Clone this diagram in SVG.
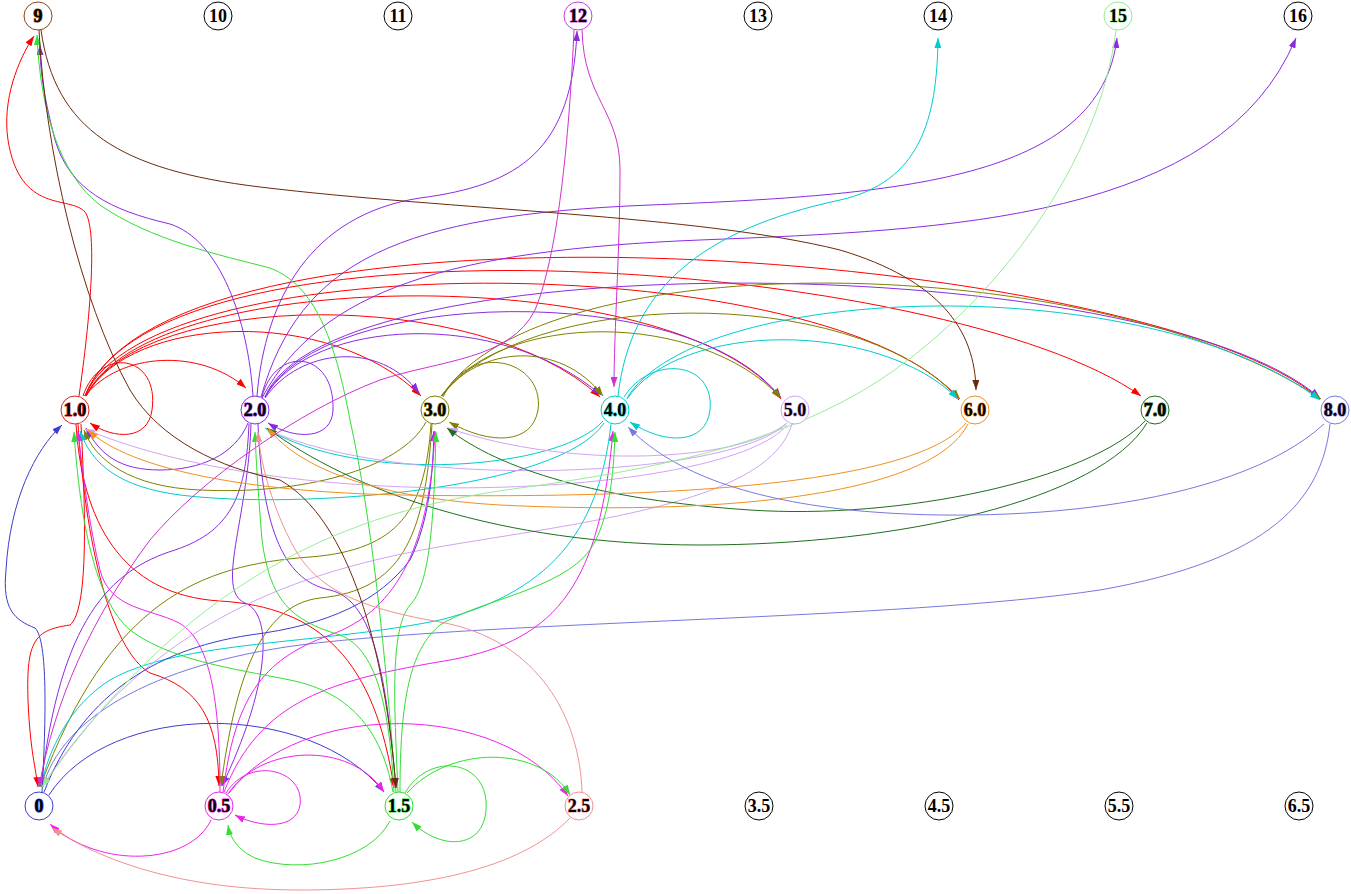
<svg xmlns="http://www.w3.org/2000/svg" width="1351" height="894" viewBox="0 0 1351 894">
<defs>
<marker id="a-red" viewBox="0 0 10 7" refX="10" refY="3.5" markerWidth="10" markerHeight="7" markerUnits="userSpaceOnUse" orient="auto"><path d="M0,0L10,3.5L0,7z" fill="#ff0000"/></marker>
<marker id="a-pur" viewBox="0 0 10 7" refX="10" refY="3.5" markerWidth="10" markerHeight="7" markerUnits="userSpaceOnUse" orient="auto"><path d="M0,0L10,3.5L0,7z" fill="#8a2be2"/></marker>
<marker id="a-olv" viewBox="0 0 10 7" refX="10" refY="3.5" markerWidth="10" markerHeight="7" markerUnits="userSpaceOnUse" orient="auto"><path d="M0,0L10,3.5L0,7z" fill="#808000"/></marker>
<marker id="a-cyn" viewBox="0 0 10 7" refX="10" refY="3.5" markerWidth="10" markerHeight="7" markerUnits="userSpaceOnUse" orient="auto"><path d="M0,0L10,3.5L0,7z" fill="#00cccc"/></marker>
<marker id="a-lil" viewBox="0 0 10 7" refX="10" refY="3.5" markerWidth="10" markerHeight="7" markerUnits="userSpaceOnUse" orient="auto"><path d="M0,0L10,3.5L0,7z" fill="#cfa4f2"/></marker>
<marker id="a-org" viewBox="0 0 10 7" refX="10" refY="3.5" markerWidth="10" markerHeight="7" markerUnits="userSpaceOnUse" orient="auto"><path d="M0,0L10,3.5L0,7z" fill="#f0901e"/></marker>
<marker id="a-dgr" viewBox="0 0 10 7" refX="10" refY="3.5" markerWidth="10" markerHeight="7" markerUnits="userSpaceOnUse" orient="auto"><path d="M0,0L10,3.5L0,7z" fill="#1e6e1e"/></marker>
<marker id="a-slt" viewBox="0 0 10 7" refX="10" refY="3.5" markerWidth="10" markerHeight="7" markerUnits="userSpaceOnUse" orient="auto"><path d="M0,0L10,3.5L0,7z" fill="#7878e0"/></marker>
<marker id="a-blu" viewBox="0 0 10 7" refX="10" refY="3.5" markerWidth="10" markerHeight="7" markerUnits="userSpaceOnUse" orient="auto"><path d="M0,0L10,3.5L0,7z" fill="#3c3cd0"/></marker>
<marker id="a-mag" viewBox="0 0 10 7" refX="10" refY="3.5" markerWidth="10" markerHeight="7" markerUnits="userSpaceOnUse" orient="auto"><path d="M0,0L10,3.5L0,7z" fill="#ee22ee"/></marker>
<marker id="a-m12" viewBox="0 0 10 7" refX="10" refY="3.5" markerWidth="10" markerHeight="7" markerUnits="userSpaceOnUse" orient="auto"><path d="M0,0L10,3.5L0,7z" fill="#d030d0"/></marker>
<marker id="a-grn" viewBox="0 0 10 7" refX="10" refY="3.5" markerWidth="10" markerHeight="7" markerUnits="userSpaceOnUse" orient="auto"><path d="M0,0L10,3.5L0,7z" fill="#33dd33"/></marker>
<marker id="a-sal" viewBox="0 0 10 7" refX="10" refY="3.5" markerWidth="10" markerHeight="7" markerUnits="userSpaceOnUse" orient="auto"><path d="M0,0L10,3.5L0,7z" fill="#f39090"/></marker>
<marker id="a-brn" viewBox="0 0 10 7" refX="10" refY="3.5" markerWidth="10" markerHeight="7" markerUnits="userSpaceOnUse" orient="auto"><path d="M0,0L10,3.5L0,7z" fill="#6b2a0a"/></marker>
<marker id="a-lgr" viewBox="0 0 10 7" refX="10" refY="3.5" markerWidth="10" markerHeight="7" markerUnits="userSpaceOnUse" orient="auto"><path d="M0,0L10,3.5L0,7z" fill="#98ec98"/></marker>
</defs>
<style>
#edges path{fill:none;stroke-width:1}
.red{stroke:#ff0000;marker-end:url(#a-red)}
.pur{stroke:#8a2be2;marker-end:url(#a-pur)}
.olv{stroke:#808000;marker-end:url(#a-olv)}
.cyn{stroke:#00cccc;marker-end:url(#a-cyn)}
.lil{stroke:#cfa4f2;marker-end:url(#a-lil)}
.org{stroke:#f0901e;marker-end:url(#a-org)}
.dgr{stroke:#1e6e1e;marker-end:url(#a-dgr)}
.slt{stroke:#7878e0;marker-end:url(#a-slt)}
.blu{stroke:#3c3cd0;marker-end:url(#a-blu)}
.mag{stroke:#ee22ee;marker-end:url(#a-mag)}
.m12{stroke:#d030d0;marker-end:url(#a-m12)}
.grn{stroke:#33dd33;marker-end:url(#a-grn)}
.sal{stroke:#f39090;marker-end:url(#a-sal)}
.brn{stroke:#6b2a0a;marker-end:url(#a-brn)}
.lgr{stroke:#98ec98;marker-end:url(#a-lgr)}
.node circle{fill:#fff;stroke:#000;stroke-width:1}
.node text{font-family:"Liberation Serif","Times New Roman",serif;font-weight:bold;font-size:18px;text-anchor:middle;fill:#000;paint-order:stroke;stroke-width:1.2}
</style>
<rect width="1351" height="894" fill="#fff"/>
<g id="edges">
<path class="red" d="M79,396 C90,320 98,230 85,212 C70,195 20,215 8,140 C2,100 18,60 34,36"/>
<path class="red" d="M83,396 C100,345 160,355 152,410 C148,440 115,440 90,423"/>
<path class="red" d="M85,396 C120,352 200,348 246,388"/>
<path class="red" d="M86,396 C130,315 330,305 421,396"/>
<path class="red" d="M86,396 C140,290 480,285 600,397"/>
<path class="red" d="M86,396 C150,262 680,262 781,399"/>
<path class="red" d="M85,396 C150,240 840,250 959,400"/>
<path class="red" d="M85,396 C160,200 950,260 1141,396"/>
<path class="red" d="M85,396 C170,175 1150,250 1320,399"/>
<path class="red" d="M78,424 C85,540 110,650 150,673 C200,688 218,720 219,786"/>
<path class="red" d="M76,424 C82,520 120,595 220,601 C320,607 375,660 394,788"/>
<path class="red" d="M81,424 C86,520 88,610 70,625 C35,630 26,640 28,700 C30,750 36,770 38,787"/>
<path class="pur" d="M253,396 C248,320 220,240 170,224 C110,210 70,190 55,140 C45,100 40,75 40,45"/>
<path class="pur" d="M257,396 C265,300 310,215 420,198 C520,185 572,150 577,31"/>
<path class="pur" d="M261,397 C300,260 400,215 650,205 C900,195 1100,180 1117,38"/>
<path class="pur" d="M262,398 C320,290 450,250 700,240 C950,230 1220,220 1296,38"/>
<path class="pur" d="M262,397 C275,345 335,350 333,410 C332,440 295,440 268,423"/>
<path class="pur" d="M265,398 C300,348 380,340 419,393"/>
<path class="pur" d="M265,397 C310,318 500,308 601,395"/>
<path class="pur" d="M265,397 C320,288 690,278 781,398"/>
<path class="pur" d="M265,397 C330,240 1150,250 1320,398"/>
<path class="pur" d="M248,423 C235,455 200,470 160,470 C120,470 100,455 86,428"/>
<path class="pur" d="M249,424 C246,490 235,530 175,550 C110,570 60,620 41,787"/>
<path class="pur" d="M251,424 C248,520 215,590 245,603 C275,615 268,690 222,786"/>
<path class="pur" d="M258,424 C262,520 280,580 330,590 C370,600 385,660 396,788"/>
<path class="olv" d="M443,397 C470,340 545,360 538,410 C532,445 490,445 449,422"/>
<path class="olv" d="M441,396 C480,345 560,340 603,396"/>
<path class="olv" d="M442,396 C500,310 700,310 781,398"/>
<path class="olv" d="M442,396 C520,290 850,280 960,399"/>
<path class="olv" d="M442,396 C540,240 1100,250 1321,399"/>
<path class="olv" d="M426,422 C400,470 300,495 200,490 C130,487 95,460 84,430"/>
<path class="olv" d="M431,424 C425,510 400,550 310,557 C200,565 110,600 40,787"/>
<path class="olv" d="M432,424 C425,540 400,590 320,598 C260,605 235,680 221,786"/>
<path class="cyn" d="M618,396 C630,290 700,230 840,200 C920,182 937,120 938,38"/>
<path class="cyn" d="M624,397 C650,355 715,360 710,410 C706,445 665,445 630,422"/>
<path class="cyn" d="M627,399 C680,320 880,320 958,399"/>
<path class="cyn" d="M627,398 C700,280 1150,270 1320,400"/>
<path class="cyn" d="M603,421 C560,470 360,485 265,428"/>
<path class="cyn" d="M604,423 C560,490 300,510 180,495 C120,487 92,465 80,431"/>
<path class="cyn" d="M611,424 C600,520 560,590 440,620 C320,645 180,640 110,680 C70,705 48,750 41,787"/>
<path class="lil" d="M787,423 C740,462 570,470 448,428"/>
<path class="lil" d="M786,424 C730,478 400,492 266,429"/>
<path class="lil" d="M787,425 C730,495 300,520 85,429"/>
<path class="lil" d="M792,424 C770,500 600,520 450,545 C300,570 150,620 42,787"/>
<path class="dgr" d="M1145,421 C1090,480 900,520 750,510 C600,500 500,470 447,428"/>
<path class="dgr" d="M1147,423 C1100,500 900,545 700,545 C500,545 350,490 267,428"/>
<path class="org" d="M966,423 C920,480 700,500 400,495 C250,492 130,470 88,430"/>
<path class="org" d="M968,424 C930,500 700,515 500,505 C380,498 300,470 268,428"/>
<path class="slt" d="M1324,424 C1230,510 1000,525 850,510 C740,498 670,470 628,427"/>
<path class="slt" d="M1330,424 C1322,500 1270,560 1100,590 C900,620 500,620 300,645 C150,665 60,720 43,787"/>
<path class="blu" d="M42,792 C46,720 48,640 35,628 C15,620 2,610 6,570 C10,500 35,450 62,425"/>
<path class="blu" d="M49,795 C110,700 310,700 384,792"/>
<path class="blu" d="M44,792 C80,700 150,650 250,635 C330,625 380,600 410,560 C430,520 433,470 434,431"/>
<path class="mag" d="M211,820 C190,865 100,870 50,824"/>
<path class="mag" d="M226,793 C250,755 305,770 300,805 C296,830 260,828 235,815"/>
<path class="mag" d="M228,794 C260,745 350,740 384,792"/>
<path class="mag" d="M229,793 C300,700 500,700 568,796"/>
<path class="mag" d="M220,792 C220,700 210,640 179,623 C150,608 110,610 100,570 C90,530 82,470 78,431"/>
<path class="mag" d="M223,792 C235,700 260,660 330,635 C400,610 430,540 435,431"/>
<path class="mag" d="M224,792 C260,700 330,680 450,660 C560,640 600,580 613,431"/>
<path class="m12" d="M582,30 C584,100 620,110 620,170 C620,250 614,330 614,387"/>
<path class="m12" d="M574,30 C570,120 560,250 535,310 C510,360 440,360 380,380 C300,410 200,480 150,540 C90,620 55,700 39,787"/>
<path class="grn" d="M390,821 C370,860 300,875 255,858 C238,850 230,838 228,825"/>
<path class="grn" d="M405,793 C430,750 490,760 486,810 C483,850 440,850 412,822"/>
<path class="grn" d="M407,793 C450,745 540,745 570,795"/>
<path class="grn" d="M396,792 C385,650 372,520 350,420 C335,340 315,285 270,268 C220,255 150,240 100,205 C60,175 40,110 37,35"/>
<path class="grn" d="M393,792 C380,720 340,690 290,680 C230,668 170,660 130,630 C95,600 80,520 74,432"/>
<path class="grn" d="M394,792 C390,720 380,650 340,635 C290,620 270,600 262,540 C258,490 256,460 255,432"/>
<path class="grn" d="M398,792 C394,700 390,630 410,605 C430,585 434,520 436,432"/>
<path class="grn" d="M400,792 C400,700 410,650 440,625 C480,600 560,590 590,550 C610,520 614,470 615,432"/>
<path class="sal" d="M570,818 C520,870 420,890 300,890 C180,890 100,860 52,828"/>
<path class="sal" d="M582,792 C580,720 540,640 440,622 C340,605 310,580 290,540 C270,500 260,460 258,432"/>
<path class="brn" d="M41,30 C55,130 120,170 260,187 C450,210 700,215 840,250 C940,280 975,330 976,390"/>
<path class="brn" d="M39,30 C45,150 80,300 130,390 C160,440 220,468 280,480 C350,520 385,650 396,788"/>
<path class="lgr" d="M1116,30 C1100,160 1000,300 880,380 C780,445 650,470 520,488 C370,508 200,560 42,787"/>
</g>
<g id="n9" class="node"><circle cx="38" cy="16" r="14" style="stroke:#8b4513"/><text x="38" y="22" style="stroke:#8b4513">9</text></g>
<g id="n10" class="node"><circle cx="218" cy="16" r="14"/><text x="218" y="22">10</text></g>
<g id="n11" class="node"><circle cx="398" cy="16" r="14"/><text x="398" y="22">11</text></g>
<g id="n12" class="node"><circle cx="578" cy="16" r="14" style="stroke:#c040e0"/><text x="578" y="22" style="stroke:#c040e0">12</text></g>
<g id="n13" class="node"><circle cx="758" cy="16" r="14"/><text x="758" y="22">13</text></g>
<g id="n14" class="node"><circle cx="938" cy="16" r="14"/><text x="938" y="22">14</text></g>
<g id="n15" class="node"><circle cx="1118" cy="16" r="14" style="stroke:#90ee90"/><text x="1118" y="22" style="stroke:#90ee90">15</text></g>
<g id="n16" class="node"><circle cx="1298" cy="16" r="14"/><text x="1298" y="22">16</text></g>
<g id="n1_0" class="node"><circle cx="75" cy="410" r="14" style="stroke:#e02020"/><text x="75" y="416" style="stroke:#e02020">1.0</text></g>
<g id="n2_0" class="node"><circle cx="255" cy="410" r="14" style="stroke:#8a2be2"/><text x="255" y="416" style="stroke:#8a2be2">2.0</text></g>
<g id="n3_0" class="node"><circle cx="435" cy="410" r="14" style="stroke:#808000"/><text x="435" y="416" style="stroke:#808000">3.0</text></g>
<g id="n4_0" class="node"><circle cx="615" cy="410" r="14" style="stroke:#00cccc"/><text x="615" y="416" style="stroke:#00cccc">4.0</text></g>
<g id="n5_0" class="node"><circle cx="795" cy="410" r="14" style="stroke:#cfa4f2"/><text x="795" y="416" style="stroke:#cfa4f2">5.0</text></g>
<g id="n6_0" class="node"><circle cx="975" cy="410" r="14" style="stroke:#f0901e"/><text x="975" y="416" style="stroke:#f0901e">6.0</text></g>
<g id="n7_0" class="node"><circle cx="1155" cy="410" r="14" style="stroke:#1e6e1e"/><text x="1155" y="416" style="stroke:#1e6e1e">7.0</text></g>
<g id="n8_0" class="node"><circle cx="1335" cy="410" r="14" style="stroke:#7878e0"/><text x="1335" y="416" style="stroke:#7878e0">8.0</text></g>
<g id="n0" class="node"><circle cx="39" cy="806" r="14" style="stroke:#3c3cd0"/><text x="39" y="812" style="stroke:#3c3cd0">0</text></g>
<g id="n0_5" class="node"><circle cx="219" cy="806" r="14" style="stroke:#ee22ee"/><text x="219" y="812" style="stroke:#ee22ee">0.5</text></g>
<g id="n1_5" class="node"><circle cx="399" cy="806" r="14" style="stroke:#33dd33"/><text x="399" y="812" style="stroke:#33dd33">1.5</text></g>
<g id="n2_5" class="node"><circle cx="579" cy="806" r="14" style="stroke:#f39090"/><text x="579" y="812" style="stroke:#f39090">2.5</text></g>
<g id="n3_5" class="node"><circle cx="759" cy="806" r="14"/><text x="759" y="812">3.5</text></g>
<g id="n4_5" class="node"><circle cx="939" cy="806" r="14"/><text x="939" y="812">4.5</text></g>
<g id="n5_5" class="node"><circle cx="1119" cy="806" r="14"/><text x="1119" y="812">5.5</text></g>
<g id="n6_5" class="node"><circle cx="1299" cy="806" r="14"/><text x="1299" y="812">6.5</text></g>
</svg>
